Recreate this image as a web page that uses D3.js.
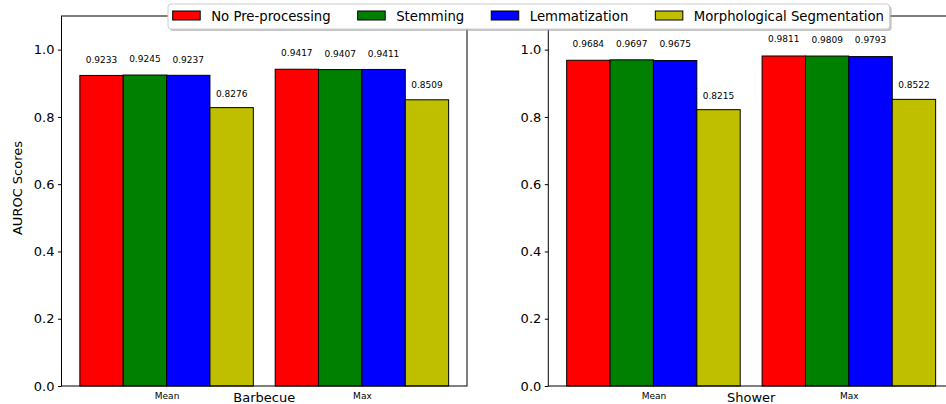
<!DOCTYPE html>
<html>
<head>
<meta charset="utf-8">
<script src="https://cdn.jsdelivr.net/npm/d3@7"></script>
<style>
  html, body { margin: 0; padding: 0; background: #fff; }
  svg { display: block; font-family: "DejaVu Sans", sans-serif; }
</style>
</head>
<body>
<svg id="chart" width="946" height="404"></svg>
<script>
// Methods compared, one bar colour each
const methods = ["No Pre-processing", "Stemming", "Lemmatization", "Morphological Segmentation"];
const methodColors = ["#ff0000", "#008000", "#0000ff", "#bfbf00"];

// Aggregation groups along each x axis
const groups = ["Mean", "Max"];

// AUROC scores per dataset: [group][method]
const barbecueScores = [
  [0.9233, 0.9245, 0.9237, 0.8276],
  [0.9417, 0.9407, 0.9411, 0.8509]
];
const showerScores = [
  [0.9684, 0.9697, 0.9675, 0.8215],
  [0.9811, 0.9809, 0.9793, 0.8522]
];

const yTicks = [0.0, 0.2, 0.4, 0.6, 0.8, 1.0];

const panels = [
  { title: "Barbecue", scores: barbecueScores, x0: 61.5, x1: 467, ylabel: "AUROC Scores" },
  { title: "Shower",   scores: showerScores,   x0: 548.3, x1: 954, ylabel: null }
];

const svg = d3.select("#chart");
const plotTop = 16, plotBottom = 386;
const barW = 0.222;
const xDomain = [-0.538, 1.538];

const y = d3.scaleLinear().domain([0, 1.1]).range([plotBottom, plotTop]);

panels.forEach(p => {
  const x = d3.scaleLinear().domain(xDomain).range([p.x0, p.x1]);
  const g = svg.append("g");

  // bars with their value labels
  p.scores.forEach((row, gi) => {
    row.forEach((v, mi) => {
      const left = gi + (mi - 2) * barW;
      g.append("rect")
        .attr("x", x(left))
        .attr("y", y(v))
        .attr("width", x(left + barW) - x(left))
        .attr("height", y(0) - y(v))
        .attr("fill", methodColors[mi])
        .attr("stroke", "#000")
        .attr("stroke-width", 1);
      g.append("text")
        .attr("x", x(left + barW / 2))
        .attr("y", y(v * 1.05))
        .attr("text-anchor", "middle")
        .attr("dominant-baseline", "central")
        .attr("font-size", "9px")
        .attr("fill", "#000")
        .text(v.toFixed(4));
    });
  });

  // axes frame
  g.append("rect")
    .attr("x", p.x0).attr("y", plotTop)
    .attr("width", p.x1 - p.x0).attr("height", plotBottom - plotTop)
    .attr("fill", "none").attr("stroke", "#000").attr("stroke-width", 1);

  // y axis
  const yAxis = d3.axisLeft(y).tickValues(yTicks).tickFormat(d3.format(".1f"))
    .tickSize(3.5).tickPadding(3.5);
  const ya = g.append("g").attr("transform", `translate(${p.x0},0)`).call(yAxis);
  ya.select(".domain").remove();
  ya.selectAll("text").attr("font-size", "13px").attr("font-family", "DejaVu Sans").attr("fill", "#000");
  ya.selectAll("line").attr("stroke", "#000");

  // x group labels
  const xAxis = d3.axisBottom(x).tickValues([0, 1]).tickFormat(i => groups[i])
    .tickSize(0).tickPadding(7);
  const xa = g.append("g").attr("transform", `translate(0,${plotBottom})`).call(xAxis);
  xa.select(".domain").remove();
  xa.selectAll("text").attr("font-size", "9px").attr("font-family", "DejaVu Sans").attr("fill", "#000");

  // x title
  g.append("text")
    .attr("x", (p.x0 + p.x1) / 2)
    .attr("y", 402)
    .attr("text-anchor", "middle")
    .attr("font-size", "13px")
    .attr("fill", "#000")
    .text(p.title);

  if (p.ylabel) {
    g.append("text")
      .attr("transform", `translate(22,188) rotate(-90)`)
      .attr("text-anchor", "middle")
      .attr("font-size", "13px")
      .attr("fill", "#000")
      .text(p.ylabel);
  }
});

// legend across the top
const leg = svg.append("g");
const legLeft = 168, legTop = 4, legH = 25;
const shadow = leg.append("rect");
const frame = leg.append("rect");
let cx = legLeft + 4.7;
methods.forEach((m, i) => {
  leg.append("rect")
    .attr("x", cx).attr("y", 11)
    .attr("width", 27.5).attr("height", 9)
    .attr("fill", methodColors[i])
    .attr("stroke", "#000").attr("stroke-width", 1);
  const t = leg.append("text")
    .attr("x", cx + 38.5).attr("y", 20.5)
    .attr("font-size", "13.25px")
    .attr("fill", "#000")
    .text(m);
  const w = t.node().getComputedTextLength();
  cx = cx + 38.5 + w + (i < methods.length - 1 ? 27 : 0);
});
const legRight = cx + 5.6;
shadow.attr("x", legLeft + 2).attr("y", legTop + 2)
  .attr("width", legRight - legLeft).attr("height", legH)
  .attr("rx", 3).attr("fill", "#a0a0a0").attr("opacity", 0.6);
frame.attr("x", legLeft).attr("y", legTop)
  .attr("width", legRight - legLeft).attr("height", legH)
  .attr("rx", 3).attr("fill", "#fff").attr("stroke", "#cccccc").attr("stroke-width", 1);
</script>
</body>
</html>
